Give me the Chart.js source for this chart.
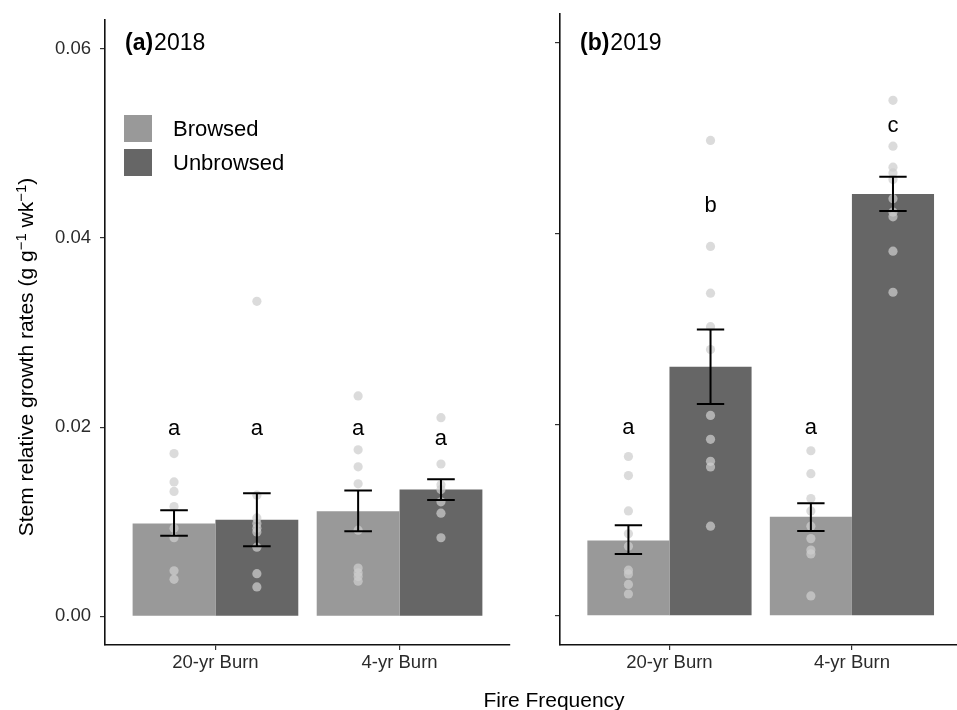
<!DOCTYPE html>
<html>
<head>
<meta charset="utf-8">
<script src="https://cdn.jsdelivr.net/npm/chart.js@4.4.0/dist/chart.umd.min.js"></script>
<style>
  html, body { margin: 0; padding: 0; background: #fff; }
  #wrap { position: relative; width: 957px; height: 710px; overflow: hidden; }
  #wrap canvas { position: absolute; top: 0; }
  #c2018 { left: 0; }
  #c2019 { left: 520px; }
</style>
</head>
<body>
<div id="wrap">
  <canvas id="c2018" width="957" height="710"></canvas>
  <canvas id="c2019" width="446" height="710"></canvas>
</div>
<script>
// categories and groups
const burns = ['20-yr Burn', '4-yr Burn'];
const groups = ['Browsed', 'Unbrowsed'];
const groupColors = ['#999999', '#666666'];
const yTicks = [0.00, 0.02, 0.04, 0.06];

// 2018 : bar means, SE limits, individual points, letters
const mean2018Browsed   = [0.0098, 0.0111];
const mean2018Unbrowsed = [0.0102, 0.0134];
const low2018Browsed    = [0.0085, 0.0090];
const high2018Browsed   = [0.0112, 0.0133];
const low2018Unbrowsed  = [0.0074, 0.0123];
const high2018Unbrowsed = [0.0130, 0.0145];
const pts2018Browsed = [
  [0.0172, 0.0142, 0.0132, 0.0116, 0.0093, 0.0083, 0.0048, 0.0039],
  [0.0233, 0.0176, 0.0158, 0.0140, 0.0091, 0.0051, 0.0046, 0.0042, 0.0037]
];
const pts2018Unbrowsed = [
  [0.0333, 0.0128, 0.0104, 0.0098, 0.0093, 0.0089, 0.0073, 0.0045, 0.0031],
  [0.0210, 0.0161, 0.0139, 0.0134, 0.0121, 0.0109, 0.0083]
];
const letters2018Browsed   = ['a', 'a'];
const letters2018Unbrowsed = ['a', 'a'];
const letterAt2018Browsed   = [0.0198, 0.0198];
const letterAt2018Unbrowsed = [0.0198, 0.0188];

// 2019
const mean2019Browsed   = [0.0079, 0.0104];
const mean2019Unbrowsed = [0.0261, 0.0442];
const low2019Browsed    = [0.0065, 0.0089];
const high2019Browsed   = [0.0095, 0.0118];
const low2019Unbrowsed  = [0.0222, 0.0424];
const high2019Unbrowsed = [0.0300, 0.0460];
const pts2019Browsed = [
  [0.0167, 0.0147, 0.0110, 0.0086, 0.0073, 0.0048, 0.0044, 0.0033, 0.0023],
  [0.0173, 0.0149, 0.0123, 0.0110, 0.0094, 0.0081, 0.0069, 0.0065, 0.0021]
];
const pts2019Unbrowsed = [
  [0.0498, 0.0387, 0.0338, 0.0303, 0.0279, 0.0210, 0.0185, 0.0162, 0.0156, 0.0094],
  [0.0540, 0.0492, 0.0470, 0.0464, 0.0457, 0.0437, 0.0423, 0.0418, 0.0382, 0.0339]
];
const letters2019Browsed   = ['a', 'a'];
const letters2019Unbrowsed = ['b', 'c'];
const letterAt2019Browsed   = [0.0197, 0.0197];
const letterAt2019Unbrowsed = [0.0429, 0.0513];

const FONT = '"Liberation Sans", Arial, Helvetica, sans-serif';
Chart.defaults.font.family = FONT;
Chart.defaults.color = '#2b2b2b';

const dodge = 0.225;   // half of the dodge width (0.9 / 2 bars)
const capHalf = 0.075; // error bar cap half width, x units

function makePanel(id, p) {
  let datasets = [];

  groups.forEach((g, k) => {
    datasets.push({
      type: 'bar',
      label: g,
      data: p.means[k].map((v, i) => ({ x: i + 1, y: v })),
      backgroundColor: groupColors[k],
      borderWidth: 0,
      categoryPercentage: 0.9,
      barPercentage: 1,
      order: 2
    });
  });

  groups.forEach((g, k) => {
    let off = k == 0 ? -dodge : dodge;
    let data = [];
    p.pts[k].forEach((arr, i) => arr.forEach(v => data.push({ x: i + 1 + off, y: v })));
    datasets.push({
      type: 'scatter',
      label: g + ' obs',
      data: data,
      pointRadius: 4.6,
      pointBackgroundColor: 'rgba(205,205,205,0.72)',
      pointBorderWidth: 0,
      order: 1
    });
  });

  // error bars, letters, tags, legend, titles
  let overlay = {
    id: 'overlay' + id,
    afterDatasetsDraw(chart) {
      let ctx = chart.ctx;
      let xs = chart.scales.x, ys = chart.scales.y;
      ctx.save();

      groups.forEach((g, k) => {
        let off = k == 0 ? -dodge : dodge;
        burns.forEach((b, i) => {
          let cx = xs.getPixelForValue(i + 1 + off);
          let x0 = xs.getPixelForValue(i + 1 + off - capHalf);
          let x1 = xs.getPixelForValue(i + 1 + off + capHalf);
          let yl = ys.getPixelForValue(p.lows[k][i]);
          let yh = ys.getPixelForValue(p.highs[k][i]);
          ctx.strokeStyle = '#000';
          ctx.lineWidth = 2;
          ctx.beginPath();
          ctx.moveTo(cx, yl); ctx.lineTo(cx, yh);
          ctx.moveTo(x0, yl); ctx.lineTo(x1, yl);
          ctx.moveTo(x0, yh); ctx.lineTo(x1, yh);
          ctx.stroke();

          ctx.fillStyle = '#000';
          ctx.font = '22px ' + FONT;
          ctx.textAlign = 'center';
          ctx.textBaseline = 'middle';
          ctx.fillText(p.letters[k][i], cx, ys.getPixelForValue(p.letterAt[k][i]));
        });
      });

      // panel tag
      let tx = chart.chartArea.left + 20;
      ctx.textAlign = 'left';
      ctx.textBaseline = 'middle';
      ctx.fillStyle = '#000';
      ctx.font = 'bold 23px ' + FONT;
      ctx.fillText(p.tag, tx, 44);
      let w = ctx.measureText(p.tag).width;
      ctx.font = '23px ' + FONT;
      ctx.fillText(p.year, tx + w + 1, 44);

      if (p.legend) {
        groups.forEach((g, k) => {
          let ly = 115 + k * 34;
          ctx.fillStyle = groupColors[k];
          ctx.fillRect(124, ly, 28, 27);
          ctx.fillStyle = '#000';
          ctx.font = '22px ' + FONT;
          ctx.textBaseline = 'middle';
          ctx.fillText(g, 173, ly + 15);
        });
      }

      if (p.titles) {
        // y title with superscripts
        let parts = [['Stem relative growth rates (g g', 0], ['\u22121', 1], [' wk', 0], ['\u22121', 1], [')', 0]];
        ctx.save();
        ctx.translate(26, 357);
        ctx.rotate(-Math.PI / 2);
        let total = 0;
        parts.forEach(pt => {
          ctx.font = (pt[1] ? '15px ' : '21px ') + FONT;
          total += ctx.measureText(pt[0]).width;
        });
        let pos = -total / 2;
        ctx.fillStyle = '#000';
        ctx.textAlign = 'left';
        ctx.textBaseline = 'alphabetic';
        parts.forEach(pt => {
          ctx.font = (pt[1] ? '15px ' : '21px ') + FONT;
          ctx.fillText(pt[0], pos, pt[1] ? 0 : 7);
          pos += ctx.measureText(pt[0]).width;
        });
        ctx.restore();

        ctx.font = '21px ' + FONT;
        ctx.textAlign = 'center';
        ctx.textBaseline = 'alphabetic';
        ctx.fillStyle = '#000';
        ctx.fillText('Fire Frequency', 554, 707);
      }
      ctx.restore();
    }
  };

  return new Chart(document.getElementById(id), {
    type: 'bar',
    data: { datasets: datasets },
    plugins: [overlay],
    options: {
      responsive: false,
      animation: false,
      events: [],
      layout: { padding: { top: 14, right: p.padRight, left: 0, bottom: 0 } },
      plugins: { legend: { display: false }, tooltip: { enabled: false } },
      scales: {
        x: {
          type: 'linear',
          min: 0.4,
          max: 2.6,
          offset: false,
          afterBuildTicks: s => { s.ticks = burns.map((b, i) => ({ value: i + 1 })); },
          afterFit: s => { s.height = 65; },
          ticks: {
            callback: v => burns[Math.round(v) - 1],
            font: { size: 18.5 },
            color: '#2b2b2b',
            padding: 2,
            maxRotation: 0
          },
          grid: { offset: false, drawOnChartArea: false, drawTicks: true, tickLength: 5, color: '#333', lineWidth: 1.2 },
          border: { display: true, color: '#111', width: 1.6 }
        },
        y: {
          type: 'linear',
          min: -0.00304,
          max: 0.06304,
          afterBuildTicks: s => { s.ticks = yTicks.map(v => ({ value: v })); },
          afterFit: s => { s.width = p.yWidth; },
          ticks: {
            display: p.yLabels,
            callback: v => v.toFixed(2),
            font: { size: 18.5 },
            color: '#2b2b2b',
            padding: 9
          },
          grid: { drawOnChartArea: false, drawTicks: true, tickLength: 5, color: '#333', lineWidth: 1.2 },
          border: { display: true, color: '#111', width: 1.6 }
        }
      }
    }
  });
}

makePanel('c2018', {
  tag: '(a)', year: '2018',
  means: [mean2018Browsed, mean2018Unbrowsed],
  lows: [low2018Browsed, low2018Unbrowsed],
  highs: [high2018Browsed, high2018Unbrowsed],
  pts: [pts2018Browsed, pts2018Unbrowsed],
  letters: [letters2018Browsed, letters2018Unbrowsed],
  letterAt: [letterAt2018Browsed, letterAt2018Unbrowsed],
  yWidth: 105, padRight: 447, yLabels: true, legend: true, titles: true
});

makePanel('c2019', {
  tag: '(b)', year: '2019',
  means: [mean2019Browsed, mean2019Unbrowsed],
  lows: [low2019Browsed, low2019Unbrowsed],
  highs: [high2019Browsed, high2019Unbrowsed],
  pts: [pts2019Browsed, pts2019Unbrowsed],
  letters: [letters2019Browsed, letters2019Unbrowsed],
  letterAt: [letterAt2019Browsed, letterAt2019Unbrowsed],
  yWidth: 40, padRight: 0, yLabels: false, legend: false, titles: false
});
</script>
</body>
</html>
